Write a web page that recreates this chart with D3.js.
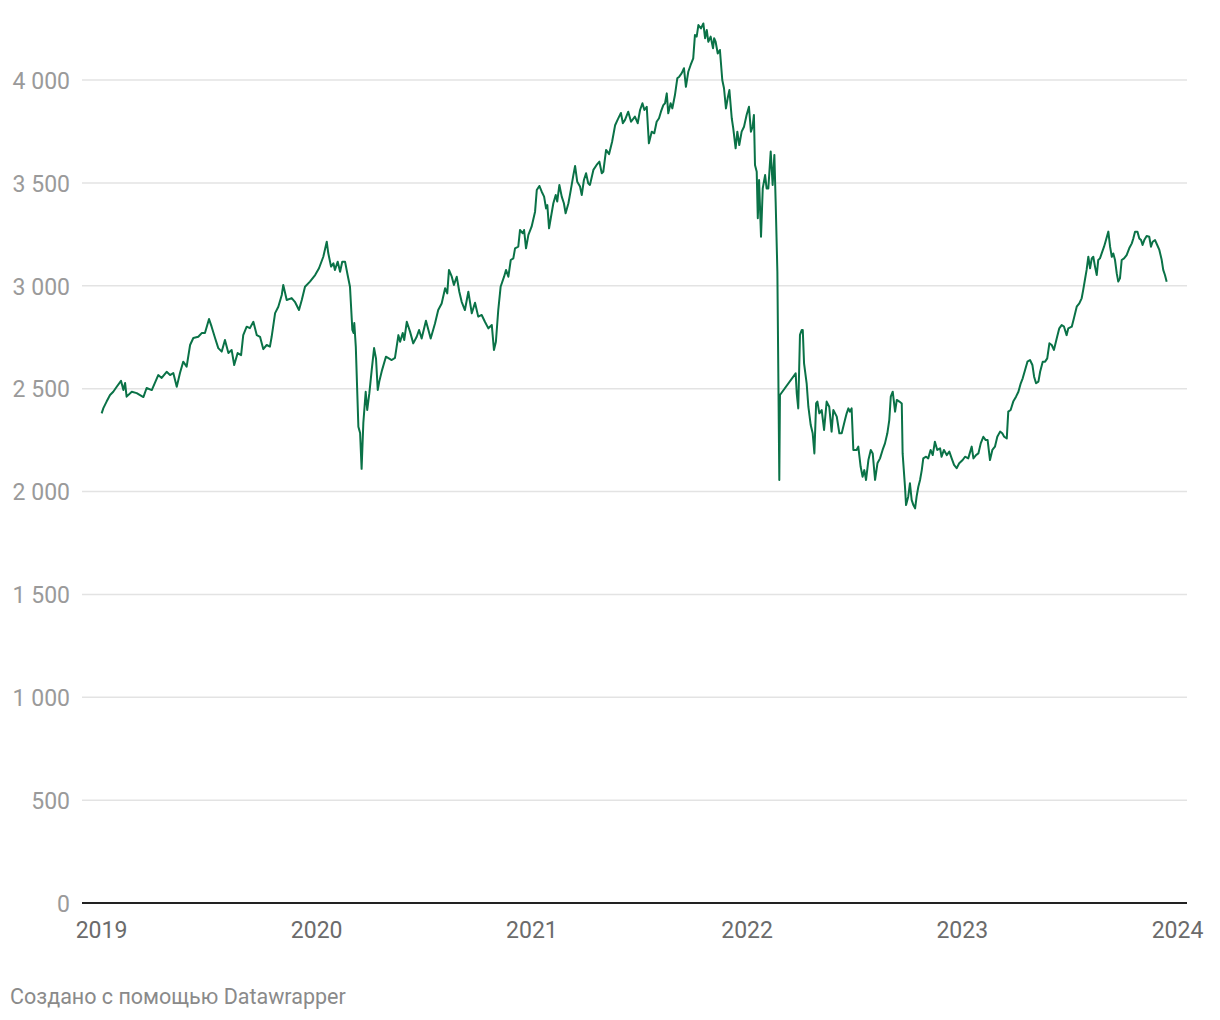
<!DOCTYPE html>
<html><head><meta charset="utf-8">
<script src="https://cdn.jsdelivr.net/npm/d3@7/dist/d3.min.js"></script>
<style>
body{margin:0;background:#fff;}
svg{display:block;font-family:Roboto,"Noto Sans",sans-serif;}
</style></head>
<body>
<svg id="chart" width="1220" height="1020"></svg>
<script>
// Time as decimal year
const years = [
2019.003,2019.011,2019.026,2019.042,2019.057,2019.073,2019.093,2019.104,2019.112,2019.119,2019.143,2019.166,2019.197,2019.212,2019.236,
2019.266,2019.282,2019.305,2019.321,2019.336,2019.352,2019.367,2019.382,2019.398,2019.414,2019.429,2019.452,2019.468,2019.483,2019.502,
2019.514,2019.530,2019.545,2019.561,2019.576,2019.592,2019.607,2019.619,2019.635,2019.651,2019.661,2019.677,2019.692,2019.708,2019.724,
2019.739,2019.754,2019.770,2019.785,2019.793,2019.809,2019.824,2019.840,2019.847,2019.863,2019.886,2019.901,2019.920,2019.933,2019.948,
2019.971,2019.995,2020.013,2020.033,2020.049,2020.056,2020.069,2020.080,2020.087,2020.100,2020.111,2020.121,2020.134,2020.146,2020.157,
2020.168,2020.174,2020.177,2020.184,2020.196,2020.204,2020.211,2020.219,2020.230,2020.237,2020.247,2020.258,2020.269,2020.278,2020.286,
2020.293,2020.306,2020.324,2020.351,2020.366,2020.382,2020.390,2020.402,2020.409,2020.421,2020.436,2020.451,2020.467,2020.478,2020.490,
2020.510,2020.532,2020.552,2020.567,2020.583,2020.599,2020.609,2020.617,2020.630,2020.640,2020.653,2020.665,2020.676,2020.691,2020.707,
2020.723,2020.738,2020.753,2020.769,2020.784,2020.800,2020.816,2020.826,2020.835,2020.846,2020.857,2020.873,2020.882,2020.893,2020.904,
2020.916,2020.924,2020.939,2020.947,2020.960,2020.966,2020.975,2020.986,2021.001,2021.017,2021.025,2021.037,2021.048,2021.059,2021.068,
2021.074,2021.082,2021.090,2021.102,2021.113,2021.120,2021.130,2021.141,2021.151,2021.159,2021.172,2021.183,2021.195,2021.203,2021.213,
2021.226,2021.234,2021.244,2021.254,2021.264,2021.272,2021.288,2021.303,2021.316,2021.327,2021.334,2021.347,2021.361,2021.375,2021.389,
2021.402,2021.416,2021.425,2021.435,2021.450,2021.463,2021.481,2021.494,2021.505,2021.516,2021.525,2021.536,2021.546,2021.559,2021.571,
2021.582,2021.593,2021.602,2021.613,2021.621,2021.629,2021.636,2021.647,2021.655,2021.667,2021.678,2021.687,2021.698,2021.709,2021.718,
2021.729,2021.740,2021.752,2021.760,2021.768,2021.776,2021.788,2021.799,2021.807,2021.815,2021.822,2021.833,2021.844,2021.849,2021.856,
2021.866,2021.876,2021.887,2021.895,2021.904,2021.912,2021.920,2021.931,2021.938,2021.949,2021.957,2021.966,2021.977,2021.988,2022.000,
2022.011,2022.020,2022.028,2022.034,2022.039,2022.047,2022.052,2022.058,2022.067,2022.075,2022.086,2022.093,2022.101,2022.112,2022.121,
2022.129,2022.135,2022.143,2022.152,2022.155,2022.228,2022.233,2022.240,2022.248,2022.256,2022.261,2022.267,2022.279,2022.287,2022.298,
2022.307,2022.315,2022.323,2022.329,2022.338,2022.349,2022.360,2022.372,2022.384,2022.395,2022.403,2022.419,2022.431,2022.442,2022.457,
2022.465,2022.473,2022.480,2022.488,2022.496,2022.511,2022.519,2022.530,2022.539,2022.547,2022.555,2022.566,2022.577,2022.586,2022.597,
2022.608,2022.620,2022.632,2022.643,2022.654,2022.663,2022.670,2022.679,2022.690,2022.698,2022.710,2022.721,2022.725,2022.736,2022.741,
2022.751,2022.759,2022.767,2022.775,2022.783,2022.790,2022.798,2022.806,2022.814,2022.821,2022.834,2022.844,2022.855,2022.865,2022.875,
2022.886,2022.899,2022.906,2022.917,2022.930,2022.942,2022.953,2022.964,2022.976,2022.988,2023.004,2023.015,2023.030,2023.046,2023.054,
2023.066,2023.077,2023.088,2023.100,2023.111,2023.120,2023.131,2023.142,2023.154,2023.165,2023.178,2023.188,2023.197,2023.209,2023.216,
2023.227,2023.239,2023.252,2023.263,2023.274,2023.283,2023.294,2023.305,2023.317,2023.328,2023.336,2023.345,2023.356,2023.364,2023.376,
2023.387,2023.397,2023.407,2023.418,2023.428,2023.441,2023.453,2023.464,2023.475,2023.487,2023.495,2023.511,2023.521,2023.534,2023.546,
2023.557,2023.564,2023.572,2023.580,2023.588,2023.596,2023.604,2023.611,2023.619,2023.627,2023.634,2023.642,2023.650,2023.661,2023.670,
2023.681,2023.689,2023.697,2023.704,2023.712,2023.720,2023.727,2023.735,2023.743,2023.754,2023.766,2023.778,2023.790,2023.797,2023.805,
2023.816,2023.825,2023.833,2023.840,2023.848,2023.859,2023.871,2023.879,2023.887,2023.898,2023.908,2023.918,2023.929,2023.936,2023.944,
2023.952
];
const values = [
2380,2405,2437,2469,2485,2509,2538,2493,2527,2461,2485,2478,2459,2503,2493,
2566,2552,2582,2566,2576,2509,2576,2631,2607,2712,2746,2752,2770,2770,2838,
2801,2746,2697,2680,2736,2673,2688,2615,2673,2663,2760,2801,2794,2825,2760,
2752,2692,2712,2704,2752,2867,2898,2955,3004,2931,2940,2922,2882,2931,2995,
3020,3052,3085,3141,3214,3159,3093,3109,3077,3117,3068,3117,3117,3052,2995,
2785,2770,2819,2704,2315,2284,2110,2333,2485,2396,2478,2591,2697,2645,2493,
2534,2590,2655,2639,2649,2760,2728,2770,2736,2825,2777,2720,2752,2785,2744,
2830,2744,2817,2882,2914,2988,2963,3077,3044,3004,3044,2971,2922,2882,2971,
2866,2917,2850,2858,2825,2793,2809,2688,2728,2882,2995,3044,3077,3044,3125,
3133,3182,3190,3271,3255,3271,3182,3247,3287,3360,3465,3485,3457,3433,3376,
3392,3279,3328,3401,3441,3409,3490,3433,3401,3352,3401,3465,3538,3582,3506,
3482,3441,3514,3547,3498,3490,3563,3587,3603,3547,3554,3660,3640,3700,3780,
3810,3840,3790,3806,3846,3797,3822,3790,3854,3887,3854,3870,3692,3749,3741,
3797,3814,3846,3878,3887,3935,3838,3887,3862,3927,4008,4016,4032,4057,3967,
4040,4073,4105,4219,4211,4267,4251,4275,4203,4243,4186,4211,4154,4203,4186,
4129,4146,4000,3960,3862,3911,3951,3814,3765,3668,3749,3684,3749,3773,3830,
3870,3749,3773,3830,3587,3554,3328,3514,3238,3473,3538,3473,3473,3652,3490,
3636,3409,3068,2056,2469,2574,2477,2404,2761,2785,2785,2623,2526,2412,2323,
2283,2185,2428,2437,2380,2396,2299,2437,2412,2291,2396,2364,2283,2283,2347,
2380,2404,2388,2404,2202,2202,2218,2120,2072,2104,2056,2153,2202,2185,2056,
2137,2161,2202,2234,2283,2347,2461,2485,2388,2445,2437,2428,2185,2023,1934,
1975,2040,1959,1934,1918,1975,2023,2056,2104,2161,2169,2161,2202,2177,2242,
2202,2210,2169,2202,2177,2194,2161,2129,2113,2137,2153,2169,2161,2218,2161,
2177,2185,2234,2266,2250,2250,2153,2202,2218,2266,2291,2283,2266,2258,2388,
2396,2437,2461,2485,2526,2550,2591,2631,2639,2615,2558,2526,2534,2582,2631,
2631,2647,2720,2712,2688,2744,2793,2809,2801,2760,2793,2801,2842,2898,2914,
2939,2979,3028,3077,3141,3085,3133,3141,3093,3052,3125,3133,3157,3190,3222,
3263,3190,3141,3157,3125,3060,3020,3036,3125,3133,3149,3182,3206,3230,3263,
3263,3230,3222,3198,3222,3242,3238,3190,3214,3222,3198,3174,3125,3077,3052,
3020
];
const xTicks = [2019, 2020, 2021, 2022, 2023, 2024];
const yTicks = [0, 500, 1000, 1500, 2000, 2500, 3000, 3500, 4000];
const footerText = "Создано с помощью Datawrapper";

const data = years.map((t, i) => ({t, v: values[i]}));
const svg = d3.select("#chart");

const x = d3.scaleLinear().domain([2019, 2024]).range([101, 1177]);
const y = d3.scaleLinear().domain([0, 4000]).range([903, 80]);

const fmt = v => d3.format(",")(v).replace(/,/g, "\u00A0");

// gridlines + y labels
const yAxis = d3.axisLeft(y).tickValues(yTicks).tickSize(0).tickPadding(0).tickFormat(fmt);
const gy = svg.append("g").attr("transform", "translate(70,0)").call(yAxis);
gy.select(".domain").remove();
gy.selectAll("text").attr("fill", "#9a9a9a").style("font-size", "23px").attr("dy", "0.36em")
  .style("font-family", "Roboto, sans-serif");

svg.append("g").selectAll("line").data(yTicks.filter(d => d !== 0)).join("line")
  .attr("x1", 82).attr("x2", 1187)
  .attr("y1", d => y(d)).attr("y2", d => y(d))
  .attr("stroke", "#e3e3e3").attr("stroke-width", 1.5);

// x axis
const xAxis = d3.axisBottom(x).tickValues(xTicks).tickSize(0).tickPadding(0).tickFormat(d3.format("d"));
const gx = svg.append("g").attr("transform", "translate(0,903)").call(xAxis);
gx.select(".domain").remove();
gx.selectAll("text").attr("fill", "#6b6b6b").style("font-size", "23px").attr("y", 35).attr("dy", 0)
  .style("font-family", "Roboto, sans-serif");

svg.append("line").attr("x1", 82).attr("x2", 1187).attr("y1", y(0)).attr("y2", y(0))
  .attr("stroke", "#222").attr("stroke-width", 2);

// the line
const line = d3.line().x(d => x(d.t)).y(d => y(d.v));
svg.append("path").datum(data)
  .attr("d", line).attr("fill", "none")
  .attr("stroke", "#0a7247").attr("stroke-width", 2)
  .attr("stroke-linejoin", "round");

svg.append("text").attr("x", 10).attr("y", 1004).text(footerText)
  .attr("fill", "#8a8a8a").style("font-size", "21.5px").style("font-family", "Roboto, sans-serif");
</script>
</body></html>
